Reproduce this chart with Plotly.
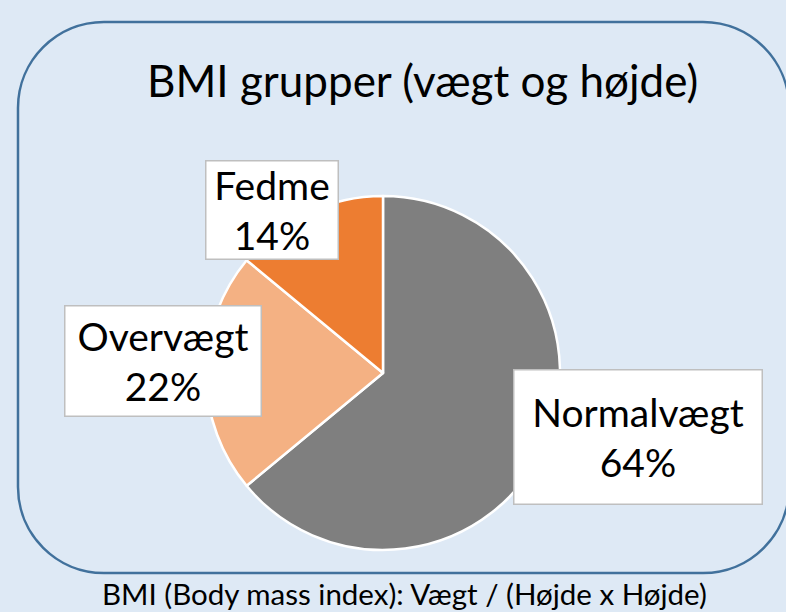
import plotly.graph_objects as go

W, H = 786, 612

categories = ["Normalvægt", "Overvægt", "Fedme"]
values = [64, 22, 14]
colors = ["#7f7f7f", "#f4b183", "#ed7d31"]
title_text = "BMI grupper (vægt og højde)"
footer_text = "BMI (Body mass index): Vægt / (Højde x Højde)"

FONT = "Lato"

def px(x):
    return x / W

def py(y):
    return 1 - y / H

# Pie geometry in pixels
cx, cy, r = 383, 373, 177

fig = go.Figure()
fig.add_trace(go.Pie(
    labels=categories,
    values=values,
    sort=False,
    direction="clockwise",
    rotation=0,
    marker=dict(colors=colors, line=dict(color="white", width=2.5)),
    textinfo="none",
    hoverinfo="label+percent",
    showlegend=False,
    domain=dict(x=[px(cx - r), px(cx + r)], y=[py(cy + r), py(cy - r)]),
))

# Rounded rectangle frame (pixel coordinates converted to paper)
L, T, R, B, rad = 18, 22, 789, 573, 86
k = 0.5523 * rad

def P(x, y):
    return f"{px(x):.5f},{py(y):.5f}"

path = (
    f"M {P(L + rad, T)} L {P(R - rad, T)} "
    f"C {P(R - rad + k, T)} {P(R, T + rad - k)} {P(R, T + rad)} "
    f"L {P(R, B - rad)} "
    f"C {P(R, B - rad + k)} {P(R - rad + k, B)} {P(R - rad, B)} "
    f"L {P(L + rad, B)} "
    f"C {P(L + rad - k, B)} {P(L, B - rad + k)} {P(L, B - rad)} "
    f"L {P(L, T + rad)} "
    f"C {P(L, T + rad - k)} {P(L + rad - k, T)} {P(L + rad, T)} Z"
)
fig.add_shape(type="path", path=path, xref="paper", yref="paper",
              line=dict(color="#41719c", width=2.5), layer="below")

# Title
fig.add_annotation(text=title_text, x=px(422), y=py(80), xref="paper", yref="paper",
                   showarrow=False, font=dict(family=FONT, size=44, color="black"),
                   xanchor="center", yanchor="middle")

# Footer
fig.add_annotation(text=footer_text, x=px(404), y=py(593), xref="paper", yref="paper",
                   showarrow=False, font=dict(family=FONT, size=29.5, color="black"),
                   xanchor="center", yanchor="middle")

# Data labels in boxes: (center x, center y, box w, box h)
label_boxes = [(638, 436.5, 250, 136), (162.5, 361, 198, 112), (272, 210, 134, 100)]
total = sum(values)
for cat, val, (bx, by, bw, bh) in zip(categories, values, label_boxes):
    pct = round(100 * val / total)
    fig.add_annotation(
        text=f"{cat}<br>{pct}%", x=px(bx), y=py(by), xref="paper", yref="paper",
        showarrow=False, font=dict(family=FONT, size=39, color="black"),
        xanchor="center", yanchor="middle", align="center",
        bgcolor="white", bordercolor="#bfbfbf", borderwidth=1.5, borderpad=0,
        width=bw - 3, height=bh - 3,
    )

fig.update_layout(
    width=W, height=H,
    margin=dict(l=0, r=0, t=0, b=0),
    paper_bgcolor="#dee9f5",
    plot_bgcolor="#dee9f5",
)

fig.write_html("out.html", config={"displayModeBar": False},
               post_script="document.body.style.margin='0';document.body.style.padding='0';")
